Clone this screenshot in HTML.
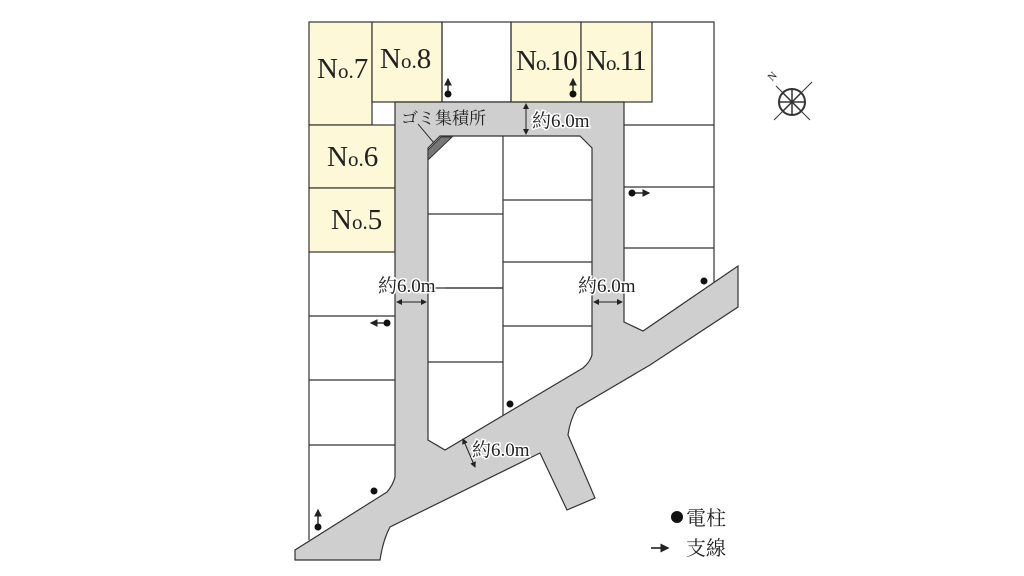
<!DOCTYPE html>
<html><head><meta charset="utf-8"><style>
html,body{margin:0;padding:0;background:#fff;}
svg{display:block;}
text{font-family:"Liberation Serif","Noto Serif CJK SC",serif;fill:#222;}
</style></head><body>
<svg width="1024" height="576" viewBox="0 0 1024 576" xmlns="http://www.w3.org/2000/svg">
<defs>
<marker id="ah" markerWidth="6" markerHeight="6" refX="5" refY="3" orient="auto"><path d="M0,0 L6,3 L0,6 z" fill="#222"/></marker>
<marker id="as" markerWidth="6" markerHeight="6" refX="1" refY="3" orient="auto"><path d="M6,0 L0,3 L6,6 z" fill="#222"/></marker>
</defs>
<g fill="#fdf8d8" stroke="#333" stroke-width="1.2">
<rect x="309" y="22" width="63" height="103"/>
<rect x="372" y="22" width="70" height="80"/>
<rect x="511" y="22" width="70" height="80"/>
<rect x="581" y="22" width="71" height="80"/>
<rect x="309" y="125" width="86" height="63"/>
<rect x="309" y="188" width="86" height="64"/>
</g>
<g fill="none" stroke="#333" stroke-width="1.2">
<rect x="442" y="22" width="69" height="80"/>
<path d="M652,22 H714 V282"/>
<path d="M624,125 H714 M624,187 H714 M624,248 H714"/>
<path d="M309,252 V540"/>
<path d="M309,316 H395 M309,380 H395 M309,445 H395"/>
<path d="M503,136 V415"/>
<path d="M428,214 H503 M428,288 H503 M428,362 H503"/>
<path d="M503,200 H592 M503,262 H592 M503,326 H592"/>
</g>
<path d="M395,102 H624 V322 L643,331 L738,266 V307 L650,365 L577,408 Q570,420 568,435 L595,498 L567,510 L540,453 L390,527 Q383,540 380,560 L295,560 L295,550 L387,492 Q393,485 395,477 Z
M428,148 L440,136 L580,136 L592,148 V355 Q590,362 583,368 L445,450 L428,440 Z" fill="#cfcfcf" fill-rule="evenodd" stroke="#333" stroke-width="1.2"/>
<path d="M428,150 L441,137 L452,137 L428,160 Z" fill="#777" stroke="#333" stroke-width="1"/>
<line x1="418" y1="124" x2="434" y2="143" stroke="#333" stroke-width="1"/>
<text x="401" y="124" font-size="17">ゴミ集積所</text>
<g font-size="29">
<text x="317" y="78">N<tspan font-size="21">o.</tspan>7</text>
<text x="380" y="68">N<tspan font-size="21">o.</tspan>8</text>
<text x="516" y="70" letter-spacing="-1">N<tspan font-size="21">o.</tspan>10</text>
<text x="586" y="70" letter-spacing="-1">N<tspan font-size="21">o.</tspan>11</text>
<text x="327" y="166">N<tspan font-size="21">o.</tspan>6</text>
<text x="331" y="229">N<tspan font-size="21">o.</tspan>5</text>
</g>
<g stroke="#222" stroke-width="1" marker-start="url(#as)" marker-end="url(#ah)">
<line x1="526" y1="104" x2="526" y2="134"/>
<line x1="397" y1="302" x2="426" y2="302"/>
<line x1="594" y1="302" x2="622" y2="302"/>
<line x1="463" y1="439" x2="475" y2="467"/>
</g>
<g font-size="19" stroke="#fff" stroke-width="3" paint-order="stroke">
<text x="532" y="127">約6.0m</text>
<text x="378" y="292">約6.0m</text>
<text x="578" y="292">約6.0m</text>
<text x="472" y="456">約6.0m</text>
</g>
<line x1="446" y1="288" x2="503" y2="288" stroke="#333" stroke-width="1.2"/>
<g fill="#111">
<circle cx="448" cy="94" r="3.5"/><circle cx="573" cy="94" r="3.5"/>
<circle cx="632" cy="193" r="3.5"/><circle cx="704" cy="281" r="3.5"/>
<circle cx="387" cy="323" r="3.5"/><circle cx="510" cy="404" r="3.5"/>
<circle cx="374" cy="491" r="3.5"/><circle cx="318" cy="527" r="3.5"/>
</g>
<g stroke="#111" stroke-width="1.3" marker-end="url(#ah)">
<line x1="448" y1="92" x2="448" y2="79"/>
<line x1="573" y1="92" x2="573" y2="79"/>
<line x1="634" y1="193" x2="649" y2="193"/>
<line x1="385" y1="323" x2="371" y2="323"/>
<line x1="318" y1="525" x2="318" y2="510"/>
</g>
<g stroke="#333" fill="none" stroke-width="2">
<circle cx="792" cy="102" r="13"/>
<line x1="776" y1="86" x2="810" y2="120" stroke-width="1"/>
<line x1="812" y1="82" x2="774" y2="120" stroke-width="1"/>
<line x1="792" y1="89" x2="792" y2="115" stroke-width="1.5"/><line x1="779" y1="102" x2="805" y2="102" stroke-width="1.5"/>
<line x1="783" y1="93" x2="801" y2="111" stroke-width="1.5"/><line x1="801" y1="93" x2="783" y2="111" stroke-width="1.5"/>
</g>
<text x="768" y="80" font-size="11" transform="rotate(-45 772 76)">N</text>
<circle cx="677" cy="517" r="6" fill="#111"/>
<text x="686" y="525" font-size="20">電柱</text>
<line x1="651" y1="548" x2="668" y2="548" stroke="#111" stroke-width="1.5" marker-end="url(#ah)"/>
<text x="686" y="555" font-size="20">支線</text>
</svg>
</body></html>
